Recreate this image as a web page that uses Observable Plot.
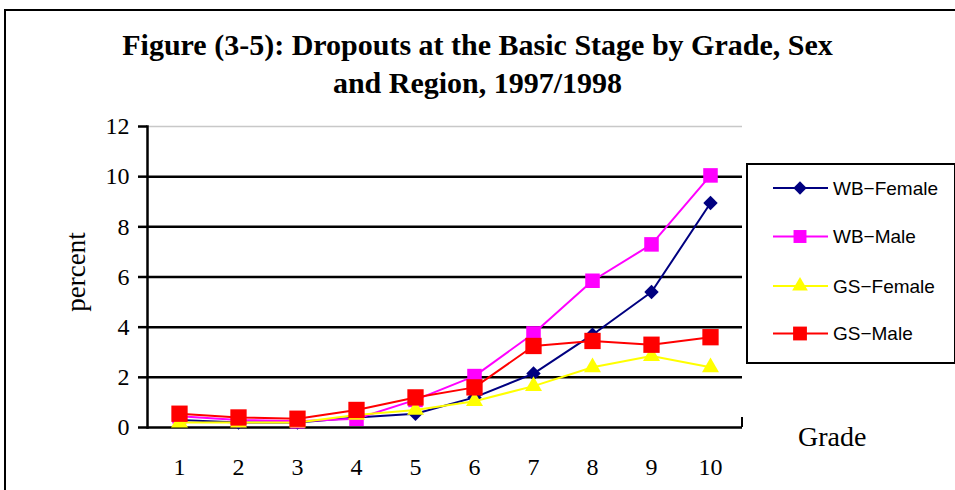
<!DOCTYPE html>
<html><head><meta charset="utf-8">
<script src="https://cdn.jsdelivr.net/npm/d3@7"></script>
<script src="https://cdn.jsdelivr.net/npm/@observablehq/plot@0.6"></script>
<style>
body{margin:0;background:#fff;width:955px;height:490px;overflow:hidden;position:relative;font-family:"Liberation Serif","Times New Roman",serif;color:#000;}
#frame{position:absolute;left:4px;top:9px;width:1000px;height:600px;border-left:2px solid #000;border-top:2px solid #000;}
#chart{position:absolute;left:0;top:0;}
#chart svg text{font-family:"Liberation Serif","Times New Roman",serif !important;}
#title{position:absolute;left:0;width:955px;top:26px;text-align:center;font-weight:bold;font-size:30px;line-height:38px;}
#ylabel{position:absolute;left:76px;top:272px;transform:translate(-50%,-50%) rotate(-90deg);font-size:27px;white-space:nowrap;}
#xlabel{position:absolute;left:798px;top:421px;font-size:28px;}
#xend{position:absolute;left:740.5px;top:417px;width:2.5px;height:10px;background:#000;}
#legend{position:absolute;left:746px;top:163px;}
</style></head><body>
<div id="frame"></div>
<div id="chart"></div>
<div id="xend"></div>
<div id="title">Figure (3-5): Dropouts at the Basic Stage by Grade, Sex<br>and Region, 1997/1998</div>
<div id="ylabel">percent</div>
<div id="xlabel">Grade</div>
<div id="legend"></div>
<script>
const grades = [1,2,3,4,5,6,7,8,9,10];
const wbFemale = [0.3,0.2,0.2,0.4,0.55,1.2,2.15,3.7,5.4,8.95];
const wbMale   = [0.45,0.3,0.25,0.35,1.1,2.05,3.75,5.85,7.3,10.05];
const gsFemale = [0.2,0.2,0.2,0.5,0.7,1.05,1.65,2.4,2.85,2.4];
const gsMale   = [0.55,0.4,0.35,0.7,1.2,1.6,3.25,3.45,3.3,3.6];
const seriesNames = ["WB\u2212Female","WB\u2212Male","GS\u2212Female","GS\u2212Male"];
const seriesColors = ["#000080","#FF00FF","#FFFF00","#FF0000"];
const seriesSymbols = ["diamond2","square","triangle2","square"];
const seriesR = [6.5, 8.2, 8.1, 9.2];
const yTicks = [0,2,4,6,8,10,12];
const gridTicks = [2,4,6,8,10];

const seriesValues = [wbFemale, wbMale, gsFemale, gsMale];
const data = [];
seriesValues.forEach((vals, s) => vals.forEach((v, i) => data.push({grade: grades[i], value: v, series: seriesNames[s]})));

const serif = "'Liberation Serif','Times New Roman',serif";
const marks = [
  Plot.ruleY([12], {stroke: "#c8c8c8", strokeWidth: 1.5}),
  Plot.ruleY(gridTicks, {stroke: "#000", strokeWidth: 2.5}),
  Plot.axisY({ticks: yTicks, tickSize: 9, tickPadding: 9, label: null, tickFormat: d => String(d), strokeWidth: 2.5, fontFamily: serif, fontSize: 24}),
  Plot.axisX({tickSize: 0, tickPadding: 30, label: null, fontFamily: serif, fontSize: 24}),
  Plot.ruleY([0], {stroke: "#000", strokeWidth: 2.5}),
  Plot.frame({anchor: "left", stroke: "#000", strokeWidth: 2.5})
];
seriesNames.forEach((name, s) => {
  const d = data.filter(r => r.series === name);
  marks.push(Plot.line(d, {x: "grade", y: "value", stroke: seriesColors[s], strokeWidth: 2}));
  marks.push(Plot.dot(d, {x: "grade", y: "value", fill: seriesColors[s], stroke: "none", symbol: seriesSymbols[s], r: seriesR[s]}));
});

const chart = Plot.plot({
  width: 955, height: 490,
  marginTop: 126, marginLeft: 147, marginRight: 213, marginBottom: 63,
  style: {fontFamily: serif, fontSize: "24px", color: "#000", background: "transparent", overflow: "visible"},
  x: {type: "point", domain: grades, padding: 0.5},
  y: {domain: [0, 12]},
  marks
});
d3.select(chart).attr("font-family", serif).selectAll("text").attr("font-family", serif).style("font-family", serif);
document.getElementById("chart").appendChild(chart);

// legend
const lw = 208, lh = 199;
const lg = d3.select("#legend").append("svg").attr("width", lw + 4).attr("height", lh + 4);
lg.append("rect").attr("x", 1).attr("y", 1).attr("width", lw).attr("height", lh).attr("fill", "#fff").attr("stroke", "#000").attr("stroke-width", 2);
const symMap = {diamond2: d3.symbolDiamond2, square: d3.symbolSquare, triangle2: d3.symbolTriangle2};
const rowY = [25, 73.5, 123, 170.5];
const legendR = [6, 7.3, 7.5, 7.8];
seriesNames.forEach((name, s) => {
  const g = lg.append("g").attr("transform", `translate(0,${rowY[s]})`);
  g.append("line").attr("x1", 27).attr("x2", 82).attr("stroke", seriesColors[s]).attr("stroke-width", 2);
  g.append("path").attr("transform", "translate(54,0)").attr("d", d3.symbol(symMap[seriesSymbols[s]], Math.PI * legendR[s] * legendR[s])()).attr("fill", seriesColors[s]);
  g.append("text").attr("x", 87).attr("dy", "0.35em").attr("font-family", "'Liberation Sans',Arial,sans-serif").attr("font-size", 19).attr("fill", "#000").text(name);
});
</script>
</body></html>
